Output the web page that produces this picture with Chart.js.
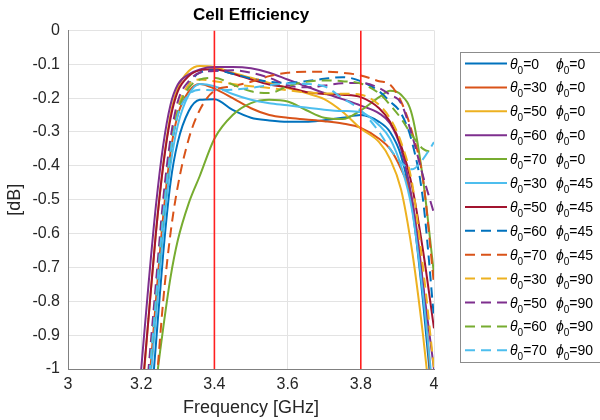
<!DOCTYPE html>
<html>
<head>
<meta charset="utf-8">
<script src="https://cdn.jsdelivr.net/npm/chart.js@4"></script>
<style>
  html, body { margin: 0; padding: 0; background: #fff; }
  #wrap { width: 600px; height: 420px; }
</style>
</head>
<body>
<div id="wrap"><canvas id="effChart" width="600" height="420"></canvas></div>
<script>
// frequency grid [GHz]
const freq = [3.20, 3.22, 3.24, 3.26, 3.28, 3.30, 3.33, 3.36, 3.40, 3.45, 3.50, 3.55,
              3.60, 3.65, 3.70, 3.75, 3.80, 3.85, 3.88, 3.91, 3.94, 3.97, 4.00];

// cell efficiency [dB], one array per scan angle
const t0p0   = [-1.45, -1.2, -0.93, -0.66, -0.45, -0.33, -0.238, -0.205, -0.203, -0.235, -0.258, -0.266, -0.27, -0.27, -0.265, -0.258, -0.25, -0.27, -0.3, -0.37, -0.52, -0.8, -1.15];
const t30p0  = [-1.35, -1.07, -0.8, -0.55, -0.36, -0.25, -0.18, -0.158, -0.172, -0.2, -0.23, -0.25, -0.258, -0.263, -0.268, -0.275, -0.288, -0.32, -0.35, -0.41, -0.5, -0.75, -1.15];
const t50p0  = [-1.12, -0.85, -0.6, -0.4, -0.25, -0.17, -0.12, -0.105, -0.108, -0.125, -0.14, -0.155, -0.17, -0.185, -0.203, -0.24, -0.29, -0.33, -0.38, -0.47, -0.65, -0.9, -1.2];
const t60p0  = [-1.0, -0.75, -0.52, -0.34, -0.22, -0.16, -0.13, -0.115, -0.108, -0.108, -0.112, -0.125, -0.145, -0.165, -0.185, -0.203, -0.222, -0.245, -0.275, -0.35, -0.5, -0.75, -1.0];
const t70p0  = [-1.45, -1.25, -1.05, -0.88, -0.73, -0.62, -0.51, -0.43, -0.32, -0.25, -0.215, -0.205, -0.21, -0.235, -0.258, -0.262, -0.236, -0.197, -0.178, -0.19, -0.25, -0.44, -0.72];
const t30p45 = [-1.35, -1.1, -0.85, -0.6, -0.4, -0.28, -0.19, -0.158, -0.165, -0.188, -0.205, -0.215, -0.221, -0.228, -0.234, -0.238, -0.242, -0.28, -0.32, -0.4, -0.53, -0.78, -1.1];
const t50p45 = [-1.1, -0.85, -0.6, -0.4, -0.26, -0.18, -0.135, -0.118, -0.115, -0.128, -0.145, -0.16, -0.168, -0.182, -0.188, -0.19, -0.197, -0.23, -0.27, -0.34, -0.46, -0.65, -0.88];
const t60p45 = [-1.3, -1.05, -0.8, -0.55, -0.36, -0.24, -0.16, -0.125, -0.118, -0.128, -0.142, -0.152, -0.155, -0.15, -0.143, -0.138, -0.15, -0.18, -0.21, -0.245, -0.33, -0.5, -0.85];
const t70p45 = [-1.6, -1.35, -1.07, -0.8, -0.6, -0.46, -0.32, -0.235, -0.178, -0.165, -0.152, -0.135, -0.125, -0.122, -0.122, -0.125, -0.133, -0.15, -0.16, -0.21, -0.3, -0.44, -0.75];
const t30p90 = [-1.3, -1.05, -0.78, -0.53, -0.34, -0.23, -0.16, -0.145, -0.15, -0.158, -0.165, -0.17, -0.177, -0.183, -0.186, -0.187, -0.19, -0.22, -0.26, -0.33, -0.45, -0.7, -1.0];
const t50p90 = [-1.25, -1.0, -0.75, -0.5, -0.32, -0.21, -0.15, -0.125, -0.12, -0.118, -0.125, -0.14, -0.162, -0.168, -0.163, -0.156, -0.155, -0.17, -0.19, -0.215, -0.31, -0.43, -0.54];
const t60p90 = [-1.3, -1.05, -0.8, -0.55, -0.36, -0.24, -0.17, -0.145, -0.14, -0.16, -0.18, -0.185, -0.165, -0.152, -0.148, -0.15, -0.157, -0.186, -0.22, -0.26, -0.31, -0.35, -0.36];
const t70p90 = [-1.3, -1.05, -0.8, -0.55, -0.36, -0.25, -0.19, -0.175, -0.177, -0.175, -0.17, -0.162, -0.157, -0.158, -0.165, -0.2, -0.236, -0.3, -0.35, -0.39, -0.41, -0.38, -0.33];

const series = [t0p0, t30p0, t50p0, t60p0, t70p0, t30p45, t50p45, t60p45, t70p45, t30p90, t50p90, t60p90, t70p90];
const theta  = [0, 30, 50, 60, 70, 30, 50, 60, 70, 30, 50, 60, 70];
const phi    = [0, 0, 0, 0, 0, 45, 45, 45, 45, 90, 90, 90, 90];
const dashed = [false, false, false, false, false, false, false, true, true, true, true, true, true];
const colors = ['#0072BD', '#D95319', '#EDB120', '#7E2F8E', '#77AC30', '#4DBEEE', '#A2142F',
                '#0072BD', '#D95319', '#EDB120', '#7E2F8E', '#77AC30', '#4DBEEE'];

// band edges (red markers)
const bandEdges = [3.4, 3.8];

const FONT = '"Liberation Sans", Arial, "DejaVu Sans", sans-serif';
const fmt = v => String(+(+v).toFixed(1));

const datasets = series.map((vals, i) => ({
  label: 'θ₀=' + theta[i] + '  ϕ₀=' + phi[i],
  data: freq.map((f, j) => ({ x: f, y: vals[j] })),
  borderColor: colors[i],
  borderWidth: 2,
  borderDash: dashed[i] ? [10, 6] : [],
  pointRadius: 0,
  fill: false,
  cubicInterpolationMode: 'monotone',
  order: series.length - i
}));

bandEdges.forEach(f => {
  datasets.push({
    label: '',
    data: [{ x: f, y: 0 }, { x: f, y: -1 }],
    borderColor: '#ff1f1f',
    borderWidth: 1.6,
    pointRadius: 0,
    fill: false,
    order: 0
  });
});

// boxed legend with subscripts, drawn at the right of the axes
const legendBox = {
  id: 'legendBox',
  afterDraw(chart) {
    const c = chart.ctx;
    c.save();
    c.strokeStyle = '#8c8c8c';
    c.lineWidth = 1;
    c.setLineDash([]);
    c.strokeRect(460.5, 52.5, 170, 310);
    for (let i = 0; i < series.length; i++) {
      const ds = chart.data.datasets[i];
      const y = 63.5 + i * 23.9;
      c.strokeStyle = ds.borderColor;
      c.lineWidth = 2;
      c.setLineDash(ds.borderDash);
      c.beginPath();
      c.moveTo(465, y);
      c.lineTo(507, y);
      c.stroke();
      c.setLineDash([]);

      c.fillStyle = '#000';
      c.textBaseline = 'alphabetic';
      c.textAlign = 'left';
      let x = 510;
      c.font = 'italic 14px ' + FONT;
      c.fillText('θ', x, y + 5);
      x += c.measureText('θ').width;
      c.font = '10px ' + FONT;
      c.fillText('0', x, y + 10);
      x += c.measureText('0').width;
      c.font = '14px ' + FONT;
      c.fillText('=' + theta[i], x, y + 5);

      x = 556;
      c.font = 'italic 14px ' + FONT;
      c.fillText('ϕ', x, y + 5);
      x += c.measureText('ϕ').width;
      c.font = '10px ' + FONT;
      c.fillText('0', x, y + 10);
      x += c.measureText('0').width;
      c.font = '14px ' + FONT;
      c.fillText('=' + phi[i], x, y + 5);
    }
    c.restore();
  }
};

const ctx = document.getElementById('effChart');

new Chart(ctx, {
  type: 'line',
  data: { datasets },
  plugins: [legendBox],
  options: {
    responsive: false,
    animation: false,
    devicePixelRatio: 1,
    layout: { padding: { left: 0, right: 166, top: 0, bottom: 0 } },
    plugins: {
      legend: { display: false },
      tooltip: { enabled: false },
      title: {
        display: true,
        fullSize: false,
        text: 'Cell Efficiency',
        color: '#000',
        font: { family: FONT, size: 17, weight: 'bold', lineHeight: 1.2 },
        padding: { top: 5, bottom: 5 }
      }
    },
    scales: {
      x: {
        type: 'linear',
        min: 3,
        max: 4,
        afterFit: s => { s.height = 51; },
        ticks: { stepSize: 0.2, color: '#262626', padding: 6, font: { family: FONT, size: 16 }, callback: fmt },
        grid: { color: '#e3e3e3', drawTicks: false },
        border: { color: '#808080' },
        title: {
          display: true,
          text: 'Frequency [GHz]',
          color: '#262626',
          font: { family: FONT, size: 18 },
          padding: { top: 0, bottom: 1 }
        }
      },
      y: {
        min: -1,
        max: 0,
        afterFit: s => { s.width = 68; },
        ticks: { stepSize: 0.1, color: '#262626', padding: 8, font: { family: FONT, size: 16 }, callback: fmt },
        grid: { color: '#e3e3e3', drawTicks: false },
        border: { color: '#808080' },
        title: {
          display: true,
          text: '[dB]',
          color: '#262626',
          font: { family: FONT, size: 18 },
          padding: { top: 4, bottom: 0 }
        }
      }
    }
  }
});
</script>
</body>
</html>
